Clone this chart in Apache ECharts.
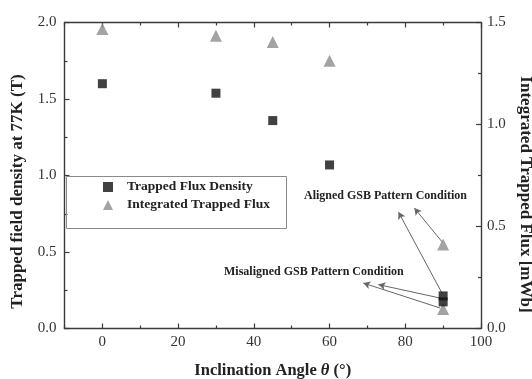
<!DOCTYPE html>
<html>
<head>
<meta charset="utf-8">
<script src="https://cdn.jsdelivr.net/npm/echarts@6/dist/echarts.min.js"></script>
<style>html,body{margin:0;padding:0;background:#fff;}#c{width:532px;height:379px;}</style>
</head>
<body>
<div id="c"></div>
<script>
// ---- data ----
var densityAngles = [0, 30, 45, 60, 90, 90];
var densityValues = [1.60, 1.538, 1.359, 1.069, 0.213, 0.174];
var fluxAngles = [0, 30, 45, 60, 90, 90];
var fluxValues = [1.468, 1.435, 1.404, 1.313, 0.412, 0.096];
var xMajorTicks = [0, 20, 40, 60, 80, 100];
var xMinorTicks = [-10, 10, 30, 50, 70, 90];
// annotation arrows in (angle, left-axis value) units: [start, end]
var alignedArrows = [
  [[89.7, 0.231], [78.2, 0.761]],
  [[89.7, 0.567], [82.4, 0.787]]
];
var misalignedArrows = [
  [[89.2, 0.199], [72.9, 0.287]],
  [[89.2, 0.134], [68.9, 0.297]]
];
var seriesNames = ['Trapped Flux Density', 'Integrated Trapped Flux'];
var alignedText = 'Aligned GSB Pattern Condition';
var misalignedText = 'Misaligned GSB Pattern Condition';

function pairs(xs, ys) { return xs.map(function (x, i) { return [x, ys[i]]; }); }
function arrowData(list) {
  return list.map(function (a) { return [{ coord: a[0] }, { coord: a[1] }]; });
}

var FONT = '"Liberation Serif", "Times New Roman", serif';
var AX = '#3a3a3a';

function xAxisDef(pos, ticks, len, labels, line) {
  return {
    type: 'value', position: pos, min: -10, max: 100,
    axisLine: { show: line, onZero: false, lineStyle: { color: AX, width: 1.4 } },
    axisTick: { show: true, inside: true, length: len, customValues: ticks, lineStyle: { color: AX, width: 1.2 } },
    axisLabel: labels ? { show: true, customValues: ticks, fontFamily: FONT, fontSize: 15, color: '#333', margin: 6 } : { show: false },
    splitLine: { show: false }
  };
}

var xAxes = [
  xAxisDef('bottom', xMajorTicks, 5, true, true),
  xAxisDef('bottom', xMinorTicks, 3, false, false),
  xAxisDef('top', xMajorTicks, 5, false, true),
  xAxisDef('top', xMinorTicks, 3, false, false)
];
xAxes[0].name = 'Inclination Angle {i|θ} (°)';
xAxes[0].nameLocation = 'middle';
xAxes[0].nameGap = 34;
xAxes[0].nameTextStyle = {
  fontFamily: FONT, fontSize: 16.5, fontWeight: 'bold', color: '#222',
  rich: { i: { fontFamily: FONT, fontSize: 16.5, fontWeight: 'bold', fontStyle: 'italic', color: '#222' } }
};

var chart = echarts.init(document.getElementById('c'), null, { renderer: 'canvas' });
chart.setOption({
  backgroundColor: '#fff',
  animation: false,
  grid: { left: 64.5, right: 51, top: 22.5, bottom: 50.5, containLabel: false, outerBoundsMode: 'none' },
  xAxis: xAxes,
  yAxis: [
    {
      type: 'value', position: 'left', min: 0, max: 2, interval: 0.5,
      name: 'Trapped field density at 77K (T)', nameLocation: 'middle', nameGap: 38, nameRotate: 90,
      nameTextStyle: { fontFamily: FONT, fontSize: 17, fontWeight: 'bold', color: '#222', padding: [0, 32, 0, 0] },
      axisLine: { show: true, onZero: false, lineStyle: { color: AX, width: 1.4 } },
      axisTick: { show: true, inside: true, length: 5, lineStyle: { color: AX, width: 1.2 } },
      minorTick: { show: true, splitNumber: 2, length: 3, lineStyle: { color: AX, width: 1.2 } },
      axisLabel: { fontFamily: FONT, fontSize: 15, color: '#333', margin: 8, formatter: function (v) { return v.toFixed(1); } },
      splitLine: { show: false }
    },
    {
      type: 'value', position: 'right', min: 0, max: 1.5, interval: 0.5,
      name: 'Integrated Trapped Flux [mWb]', nameLocation: 'middle', nameGap: 33, nameRotate: -90,
      nameTextStyle: { fontFamily: FONT, fontSize: 17, fontWeight: 'bold', color: '#222', padding: [0, 0, 0, 38] },
      axisLine: { show: true, onZero: false, lineStyle: { color: AX, width: 1.4 } },
      axisTick: { show: true, inside: true, length: 5, lineStyle: { color: AX, width: 1.2 } },
      minorTick: { show: true, splitNumber: 2, length: 3, lineStyle: { color: AX, width: 1.2 } },
      axisLabel: { fontFamily: FONT, fontSize: 15, color: '#333', margin: 6, formatter: function (v) { return v.toFixed(1); } },
      splitLine: { show: false }
    }
  ],
  legend: {
    orient: 'vertical', left: 103, top: 180, padding: 0, itemGap: 4,
    itemWidth: 10, itemHeight: 10,
    textStyle: { fontFamily: FONT, fontSize: 13.5, fontWeight: 'bold', color: '#222', padding: [0, 0, 0, 9] },
    data: [
      { name: seriesNames[0], icon: 'rect' },
      { name: seriesNames[1], icon: 'triangle' }
    ]
  },
  graphic: [
    { type: 'rect', shape: { x: 66.5, y: 176.5, width: 220, height: 52 }, style: { fill: 'none', stroke: '#8a8a8a', lineWidth: 1 }, z: 10 },
    { type: 'text', left: 304, top: 190, style: { text: alignedText, font: 'bold 12px ' + FONT, fill: '#222' }, z: 10 },
    { type: 'text', left: 224, top: 266, style: { text: misalignedText, font: 'bold 12px ' + FONT, fill: '#222' }, z: 10 }
  ],
  series: [
    {
      name: seriesNames[0], type: 'scatter', xAxisIndex: 0, yAxisIndex: 0,
      symbol: 'rect', symbolSize: 9, itemStyle: { color: '#111' },
      data: pairs(densityAngles, densityValues), z: 5,
      markLine: {
        silent: true, symbol: ['none', 'arrow'], symbolSize: [6, 7],
        label: { show: false },
        lineStyle: { color: '#666', width: 1, type: 'solid' },
        data: arrowData(alignedArrows).concat(arrowData(misalignedArrows))
      }
    },
    {
      name: seriesNames[1], type: 'scatter', xAxisIndex: 0, yAxisIndex: 1,
      symbol: 'triangle', symbolSize: 12, itemStyle: { color: '#8c8c8c' },
      data: pairs(fluxAngles, fluxValues), z: 4
    }
  ]
});
</script>
</body>
</html>
